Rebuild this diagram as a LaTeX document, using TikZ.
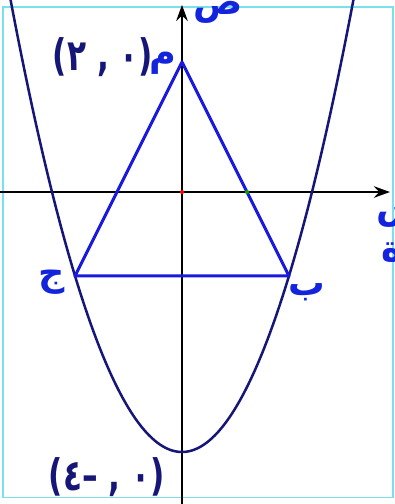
\documentclass[tikz,border=0pt]{standalone}
\usepackage{fontspec}
\usepackage{tikz}
\usetikzlibrary{arrows.meta,positioning}
\newfontfamily\arabicfont[Script=Arabic]{DejaVu Sans}
\newfontfamily\cifrasfont[Script=Arabic,FakeStretch=0.72]{DejaVu Sans}
\TeXXeTstate=1
\usepackage{xcolor}
\definecolor{azulmarino}{RGB}{22,22,120}
\definecolor{azultri}{RGB}{25,25,225}
\definecolor{azuletiq}{RGB}{20,35,220}
\definecolor{cianmarco}{RGB}{120,225,235}

\begin{document}
\begin{tikzpicture}[x=1cm,y=1cm,
  eje/.style={line width=1.2pt,-{Stealth[length=7pt,width=5pt]}},
  curva/.style={line width=1.1pt,color=azulmarino},
  triangulo/.style={line width=1.3pt,color=azultri,line join=round},
  etiqueta/.style={text=azuletiq,inner sep=0pt,font=\arabicfont\bfseries\fontsize{16}{20}\selectfont},
  coordenada/.style={text=azulmarino,inner sep=0pt,font=\cifrasfont\bfseries\fontsize{19}{22}\selectfont}]
\useasboundingbox (-2.8,-4.8) rectangle (3.277,2.954);

%====================================================
% MARCO
%====================================================
\draw[line width=0.8pt,color=cianmarco] (-2.754,-4.7) rectangle (3.246,2.846);

%====================================================
% EJES
%====================================================
\coordinate (origen) at (0,0);
\coordinate (xizq) at (-2.8,0);
\coordinate (xder) at (3.2,0);
\coordinate (yinf) at (0,-4.8);
\coordinate (ysup) at (0,2.88);
\draw[eje] (xizq) -- (xder);
\draw[eje] (yinf) -- (ysup);

%====================================================
% PARABOLA Y TRIANGULO
%====================================================
\draw[curva,domain=-2.645:2.645,samples=120,smooth] plot (\x,{\x*\x-4});
\coordinate (pM) at (0,2);
\coordinate (pB) at (1.6458,-1.2915);
\coordinate (pJ) at (-1.6458,-1.2915);
\draw[triangulo] (pM) -- (pB) -- (pJ) -- cycle;
\fill[red] (origen) circle (0.9pt);
\fill[green!65!black] (1,0) circle (0.9pt);

%====================================================
% ETIQUETAS
%====================================================
\node[etiqueta] (lS) at (0.554,2.77) {\beginR ص\endR};
\node[etiqueta] (lM) at (-0.29,1.98) {\beginR م\endR};
\node[coordenada] (cM) at (-1.215,2.08) {\beginR(٠ , ٢)\endR};
\node[etiqueta] (lB) at (1.92,-1.54) {\beginR ب\endR};
\node[etiqueta] (lJ) at (-2.0,-1.385) {\beginR ج\endR};
\node[etiqueta,anchor=west] (lX) at (2.985,-0.37) {\beginR س\endR};
\node[etiqueta,anchor=west] (lT) at (3.06,-0.94) {\beginR ة\endR};
\node[coordenada] (cV) at (-1.154,-4.385) {\beginR(٠ , –٤)\endR};
\end{tikzpicture}
\end{document}
